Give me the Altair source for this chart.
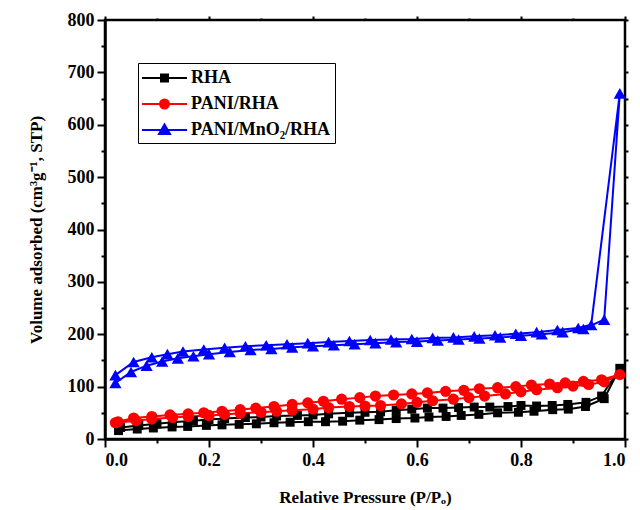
import altair as alt
import pandas as pd

# Relative pressure / adsorbed volume, adsorption branch then desorption branch
rha_ads_p = [0.026, 0.062, 0.093, 0.129, 0.159, 0.195, 0.225, 0.258, 0.291, 0.325,
             0.356, 0.391, 0.424, 0.457, 0.490, 0.527, 0.560, 0.596, 0.623, 0.656,
             0.685, 0.719, 0.755, 0.795, 0.825, 0.861, 0.891, 0.924, 0.960, 0.990]
rha_ads_v = [16, 19, 21, 23, 24, 26, 27, 28, 29, 31,
             32, 33, 33, 34, 36, 37, 39, 40, 42, 43,
             45, 47, 50, 51, 53, 56, 57, 62, 77, 135]
rha_des_p = [0.955, 0.925, 0.890, 0.860, 0.830, 0.800, 0.775, 0.740, 0.710, 0.680,
             0.650, 0.620, 0.590, 0.560, 0.530, 0.500, 0.470, 0.430, 0.400, 0.370,
             0.330, 0.300, 0.270, 0.230, 0.200, 0.170, 0.130, 0.100, 0.065, 0.030]
rha_des_v = [82, 70, 66, 64, 63, 64, 62, 61, 61, 60,
             59, 59, 57, 55, 52, 51, 50, 48, 46, 45,
             44, 42, 41, 39, 37, 35, 32, 29, 26, 22]

pani_ads_p = [0.020, 0.060, 0.090, 0.130, 0.160, 0.200, 0.230, 0.260, 0.300, 0.330,
              0.360, 0.400, 0.430, 0.470, 0.500, 0.530, 0.570, 0.600, 0.630, 0.670,
              0.700, 0.730, 0.770, 0.800, 0.830, 0.870, 0.900, 0.930, 0.960, 0.990]
pani_ads_v = [31, 35, 38, 41, 43, 45, 47, 49, 51, 53,
              55, 57, 60, 62, 63, 64, 67, 70, 73, 76,
              79, 82, 86, 90, 94, 98, 101, 104, 109, 123]
pani_des_p = [0.955, 0.920, 0.885, 0.855, 0.820, 0.790, 0.755, 0.720, 0.690, 0.655,
              0.620, 0.590, 0.555, 0.520, 0.490, 0.455, 0.420, 0.390, 0.360, 0.325,
              0.290, 0.260, 0.225, 0.190, 0.160, 0.125, 0.090, 0.055, 0.025]
pani_des_v = [113, 110, 107, 105, 103, 100, 98, 96, 93, 91,
              88, 86, 84, 82, 79, 76, 72, 69, 66, 62,
              59, 56, 53, 50, 48, 46, 43, 40, 33]

mno2_ads_p = [0.020, 0.050, 0.080, 0.110, 0.140, 0.170, 0.200, 0.240, 0.280, 0.320,
              0.360, 0.400, 0.440, 0.480, 0.520, 0.560, 0.600, 0.640, 0.680, 0.720,
              0.760, 0.800, 0.840, 0.880, 0.920, 0.960, 0.990]
mno2_ads_v = [107, 128, 140, 148, 154, 158, 162, 166, 170, 172,
              175, 177, 179, 181, 183, 185, 186, 188, 190, 192,
              194, 197, 200, 204, 210, 228, 660]
mno2_des_p = [0.935, 0.910, 0.870, 0.830, 0.790, 0.750, 0.710, 0.670, 0.630, 0.590,
              0.550, 0.510, 0.470, 0.430, 0.390, 0.350, 0.310, 0.270, 0.230, 0.190,
              0.150, 0.120, 0.090, 0.055, 0.020]
mno2_des_v = [218, 212, 208, 204, 201, 198, 196, 194, 193, 191,
              190, 189, 187, 185, 183, 181, 179, 177, 174, 171,
              167, 162, 156, 147, 122]

series_names = ["RHA", "PANI/RHA", "PANI/MnO\u2082/RHA"]
series_colors = ["#000000", "#ff0000", "#0000ff"]
marker_shapes = ["square", "circle", "triangle-up"]
marker_sizes = [80, 125, 150]
# legend symbols: a short line with the marker in its middle
legend_paths = [
    "M-1.1,0H3.4M0.8,-0.35H1.5V0.35H0.8Z",
    "M-1.1,0H3.4M0.7,0A0.45,0.45 0 1,0 1.6,0A0.45,0.45 0 1,0 0.7,0Z",
    "M-1.1,0H3.4M1.15,-0.55L1.7,0.4L0.6,0.4Z",
]

rows = []
for name, ap, av, dp, dv in [
    (series_names[0], rha_ads_p, rha_ads_v, rha_des_p, rha_des_v),
    (series_names[1], pani_ads_p, pani_ads_v, pani_des_p, pani_des_v),
    (series_names[2], mno2_ads_p, mno2_ads_v, mno2_des_p, mno2_des_v),
]:
    ps = list(ap) + list(dp)
    vs = list(av) + list(dv)
    for i, (p, v) in enumerate(zip(ps, vs)):
        rows.append({"series": name, "p": p, "v": v, "idx": i})
df = pd.DataFrame(rows)

FONT = "Liberation Serif"
color_scale = alt.Scale(domain=series_names, range=series_colors)


def per_entry(values):
    """Vega expression choosing one value per legend entry."""
    return (f"datum.value === '{series_names[0]}' ? '{values[0]}' : "
            f"datum.value === '{series_names[1]}' ? '{values[1]}' : '{values[2]}'")


x_major = "round(datum.value*10) % 2 == 0"
y_major = "datum.value % 100 == 0"

x_axis = alt.Axis(
    values=[i / 10 for i in range(11)],
    labelExpr=f"{x_major} ? format(datum.value, '.1f') : ''",
    tickSize={"condition": {"test": x_major, "value": 8}, "value": 4},
    title="Relative Pressure (P/P\u2092)",
    titlePadding=20,
    labelPadding=4,
)
y_axis = alt.Axis(
    values=list(range(0, 801, 50)),
    labelExpr=f"{y_major} ? format(datum.value, 'd') : ''",
    tickSize={"condition": {"test": y_major, "value": 8}, "value": 4},
    title="Volume adsorbed (cm\u00b3g\u207b\u00b9, STP)",
    titlePadding=22,
    labelPadding=3,
)

legend = alt.Legend(
    title=None, orient="none", legendX=33, legendY=43,
    strokeColor="black", padding=4, rowPadding=6,
    symbolSize=400, symbolStrokeWidth=2, symbolOpacity=1,
    symbolType={"expr": per_entry(legend_paths)},
    symbolFillColor={"expr": per_entry(series_colors)},
    symbolStrokeColor={"expr": per_entry(series_colors)},
    labelFont=FONT, labelFontWeight="bold", labelFontSize=18,
    labelOffset=27, labelColor="black",
)

lines = alt.Chart(df).mark_line(strokeWidth=2).encode(
    x=alt.X("p:Q", scale=alt.Scale(domain=[0, 1], nice=False), axis=x_axis),
    y=alt.Y("v:Q", scale=alt.Scale(domain=[0, 800], nice=False), axis=y_axis),
    color=alt.Color("series:N", scale=color_scale, legend=legend),
    detail="series:N",
    order="idx:Q",
)

# one marker layer per sample, each with its own symbol
marker_layers = []
for name, col, shp, sz in zip(series_names, series_colors, marker_shapes, marker_sizes):
    marker_layers.append(
        alt.Chart(df).transform_filter(alt.datum.series == name)
        .mark_point(filled=True, opacity=1, shape=shp, size=sz, color=col)
        .encode(x=alt.X("p:Q", axis=None), y=alt.Y("v:Q", axis=None))
    )

# top and right frame ticks
frame_ticks = alt.Chart(df).mark_point(opacity=0).encode(
    x=alt.X("p:Q", axis=alt.Axis(
        orient="top", values=[i / 10 for i in range(11)], labels=False, domain=False, title=None,
        tickSize={"condition": {"test": x_major, "value": 4}, "value": 2})),
    y=alt.Y("v:Q", axis=alt.Axis(
        orient="right", values=list(range(0, 801, 50)), labels=False, domain=False, title=None,
        tickSize=3)),
)

chart = alt.layer(lines, *marker_layers, frame_ticks).resolve_axis(
    x="independent", y="independent"
).properties(
    width=520,
    height=419,
    background="white",
    autosize=alt.AutoSizeParams(type="none"),
    padding={"left": 105, "top": 20, "right": 15, "bottom": 71},
).configure_view(
    stroke="black", strokeWidth=2.5
).configure_axis(
    domainColor="black", domainWidth=2.5, tickColor="black", tickWidth=2,
    grid=False, labelFont=FONT, labelFontWeight="bold", labelFontSize=18,
    labelColor="black", titleFont=FONT, titleFontWeight="bold", titleFontSize=17,
    titleColor="black",
)

chart.save("out.html", embed_options={"renderer": "svg", "actions": False})
